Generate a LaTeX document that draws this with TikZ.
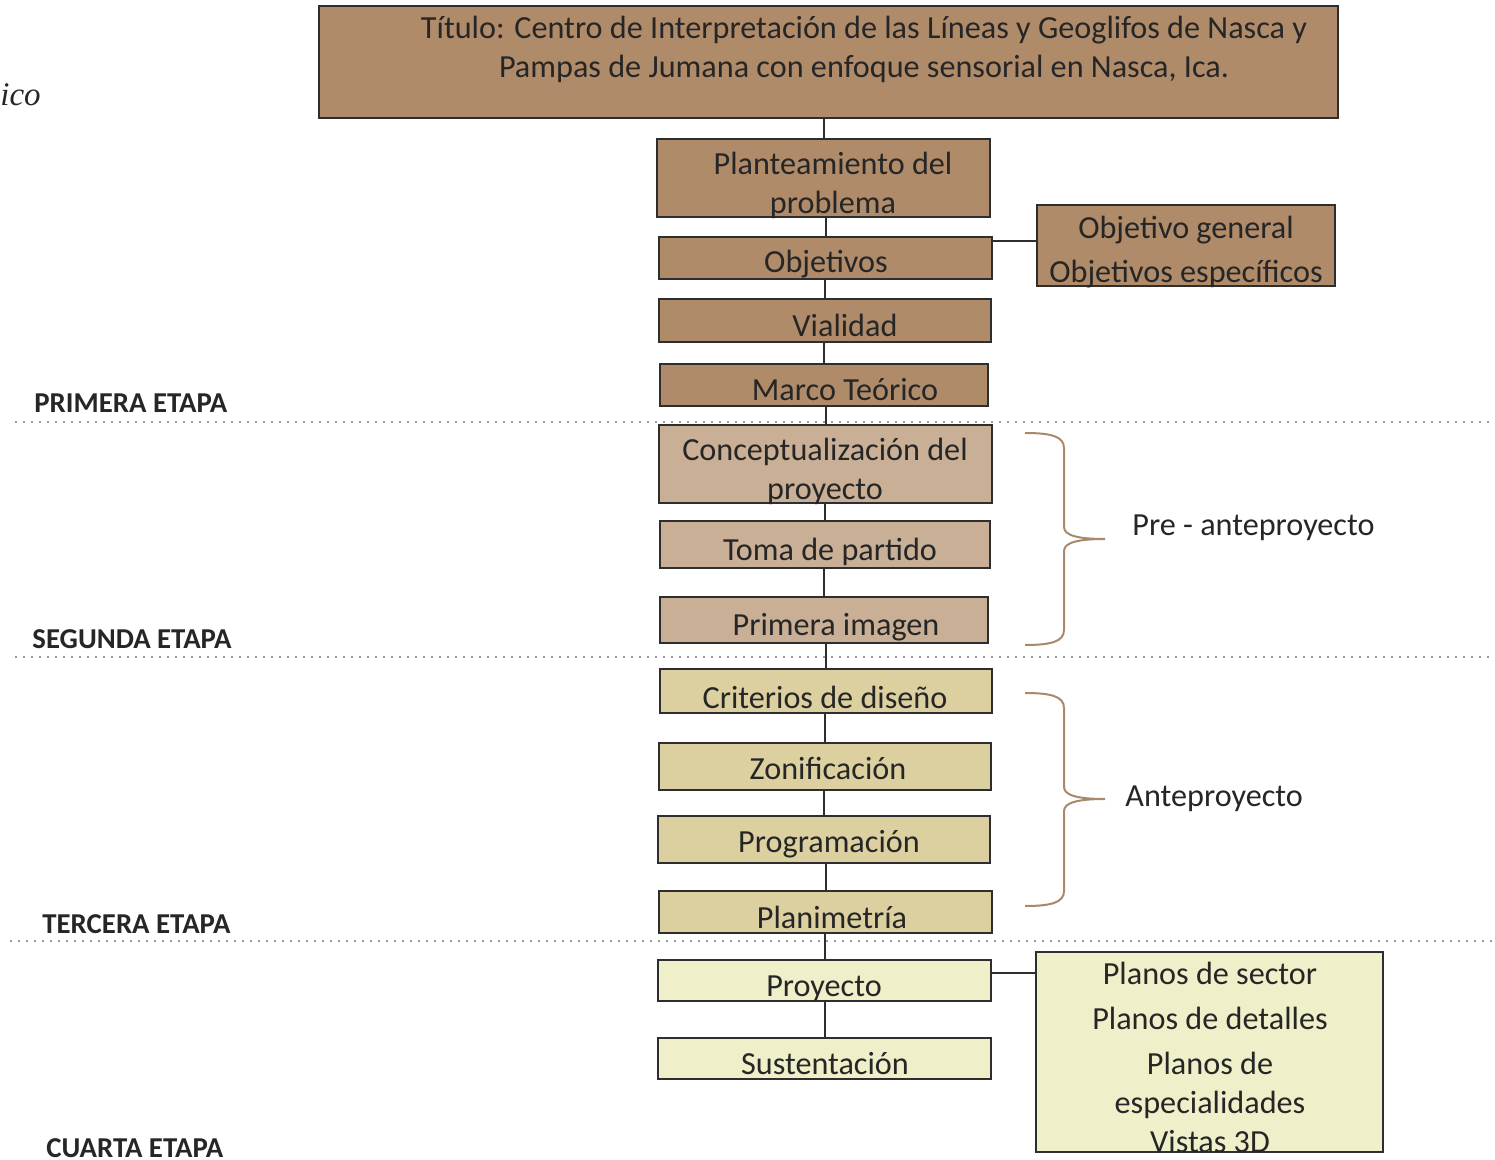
\documentclass[tikz,border=0pt]{standalone}
\usepackage{fontspec}
\setmainfont{Carlito}
\newfontfamily\serifit{Liberation Serif}
\usetikzlibrary{fit}
\definecolor{cafe}{HTML}{AF8B6A}
\definecolor{cafeclaro}{HTML}{C8AF96}
\definecolor{caqui}{HTML}{DCD0A0}
\definecolor{crema}{HTML}{EFEFC9}
\definecolor{borde}{HTML}{2E2E2E}
\definecolor{texto}{HTML}{262626}
\definecolor{llavecol}{HTML}{A8896A}
\begin{document}
\begin{tikzpicture}[x=0.5pt,y=-0.5pt,
    caja/.style={draw=borde,line width=1pt,inner sep=0pt},
    txt/.style={text=texto,font=\fontsize{16.1}{19.5}\selectfont,align=center,anchor=base,inner sep=0pt},
    etapa/.style={text=texto,font=\fontsize{14.4}{16}\selectfont\bfseries,anchor=base west,inner sep=0pt},
    linea/.style={draw=borde,line width=1pt},
    corte/.style={draw=gray!80,line width=1pt,dash pattern=on 1pt off 3pt},
    llave/.style={draw=llavecol,line width=1pt}]
    \useasboundingbox (0,0) rectangle (1495,1160);

    % cajas
    \node[caja,fill=cafe,fit={(319,6) (1338,118)}] (titulo) {};
    \node[caja,fill=cafe,fit={(657,139) (990,217)}] (plant) {};
    \node[caja,fill=cafe,fit={(659,237) (992,279)}] (obj) {};
    \node[caja,fill=cafe,fit={(1037,205) (1335,286)}] (objg) {};
    \node[caja,fill=cafe,fit={(659,299) (991,342)}] (vial) {};
    \node[caja,fill=cafe,fit={(660,364) (988,406)}] (marco) {};
    \node[caja,fill=cafeclaro,fit={(659,425) (992,503)}] (concep) {};
    \node[caja,fill=cafeclaro,fit={(660,521) (990,568)}] (toma) {};
    \node[caja,fill=cafeclaro,fit={(660,597) (988,643)}] (imagen) {};
    \node[caja,fill=caqui,fit={(660,669) (992,713)}] (crit) {};
    \node[caja,fill=caqui,fit={(659,743) (991,790)}] (zon) {};
    \node[caja,fill=caqui,fit={(658,816) (990,863)}] (prog) {};
    \node[caja,fill=caqui,fit={(659,891) (992,933)}] (plani) {};
    \node[caja,fill=crema,fit={(658,960) (991,1001)}] (proy) {};
    \node[caja,fill=crema,fit={(658,1038) (991,1079)}] (sust) {};
    \node[caja,fill=crema,fit={(1036,952) (1383,1152)}] (planos) {};

    % textos (anchor base = ultima linea)
    \node[txt] (ttitulo) at (864,78) {Título: Centro de Interpretación de las Líneas y Geoglifos de Nasca y\\Pampas de Jumana con enfoque sensorial en Nasca, Ica.};
    \node[txt] (tplant) at (833,214) {Planteamiento del\\problema};
    \node[txt] (tobj) at (826,273) {Objetivos};
    \node[txt] (tobjg) at (1186,283) {Objetivo general\\[2.5pt]Objetivos específicos};
    \node[txt] (tvial) at (845,337) {Vialidad};
    \node[txt] (tmarco) at (845,401) {Marco Teórico};
    \node[txt] (tconcep) at (825,500) {Conceptualización del\\proyecto};
    \node[txt] (ttoma) at (830,561) {Toma de partido};
    \node[txt] (timagen) at (836,636) {Primera imagen};
    \node[txt] (tcrit) at (825,708) {Criterios de diseño};
    \node[txt] (tzon) at (828,779) {Zonificación};
    \node[txt] (tprog) at (829,852) {Programación};
    \node[txt] (tplani) at (832,928) {Planimetría};
    \node[txt] (tproy) at (824,996) {Proyecto};
    \node[txt] (tsust) at (825,1074) {Sustentación};
    \node[txt] (tplanos) at (1210,1152) {Planos de sector\\[3pt]Planos de detalles\\[3pt]Planos de\\especialidades\\Vistas 3D};
    \node[txt,anchor=base west] (tpre) at (1132,536) {Pre - anteproyecto};
    \node[txt,anchor=base west] (tante) at (1125,806) {Anteproyecto};

    % etapas
    \node[etapa] (e1) at (34,413) {PRIMERA ETAPA};
    \node[etapa] (e2) at (32,648) {SEGUNDA ETAPA};
    \node[etapa] (e3) at (42,933) {TERCERA ETAPA};
    \node[etapa] (e4) at (46,1157) {CUARTA ETAPA};
    \node[text=texto,font=\serifit\itshape\fontsize{16.5}{18}\selectfont,anchor=base west,inner sep=0pt] (ico) at (0,106) {ico};

    % cortes
    \draw[corte] (15,422) -- (1492,422);
    \draw[corte] (15,657) -- (1492,657);
    \draw[corte] (10,941) -- (1492,941);

    % conectores
    \foreach \a/\b in {titulo/plant,plant/obj,obj/vial,vial/marco,marco/concep,concep/toma,toma/imagen,imagen/crit,crit/zon,zon/prog,prog/plani,plani/proy,proy/sust}
        \draw[linea] (\b.north) -- (\b.north |- \a.south);
    \coordinate (cobj) at (0,241);
    \coordinate (cproy) at (0,973);
    \draw[linea] (obj.east |- cobj) -- (objg.west |- cobj);
    \draw[linea] (proy.east |- cproy) -- (planos.west |- cproy);

    % llaves
    \draw[llave] (1025,433) .. controls (1050,433) and (1064,436) .. (1064,448) -- (1064,527)
        .. controls (1064,536) and (1080,539) .. (1105,539)
        .. controls (1080,539) and (1064,542) .. (1064,551) -- (1064,630)
        .. controls (1064,642) and (1050,645) .. (1025,645);
    \draw[llave] (1025,693) .. controls (1050,693) and (1064,696) .. (1064,708) -- (1064,787)
        .. controls (1064,796) and (1080,799) .. (1105,799)
        .. controls (1080,799) and (1064,802) .. (1064,811) -- (1064,891)
        .. controls (1064,903) and (1050,906) .. (1025,906);
\end{tikzpicture}
\end{document}
